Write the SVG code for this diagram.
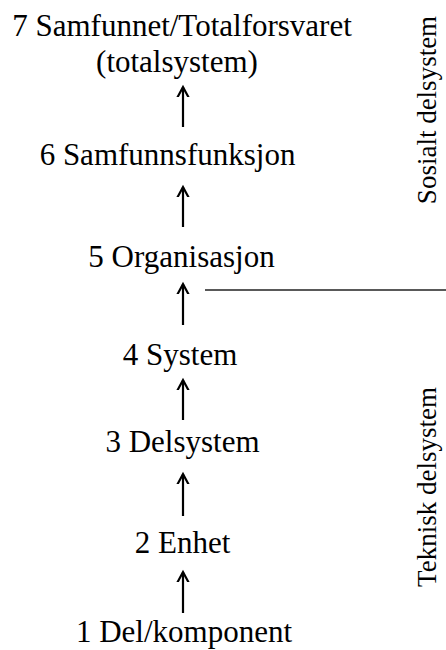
<svg xmlns="http://www.w3.org/2000/svg" width="446" height="650" viewBox="0 0 446 650">
  <style>
    .lbl { font-family: "Liberation Serif", "Times New Roman", serif; font-size: 31px; fill: #000; text-anchor: middle; }
    .side { font-family: "Liberation Serif", "Times New Roman", serif; font-size: 27px; fill: #000; text-anchor: middle; }
    .arrow { stroke: #000; stroke-width: 2.2; fill: none; marker-end: url(#head); }
    .divider { stroke: #222; stroke-width: 1.3; }
  </style>
  <defs>
    <marker id="head" markerUnits="userSpaceOnUse" markerWidth="20" markerHeight="20" viewBox="-10 -10 20 20" refX="0" refY="0" orient="auto">
      <path d="M -14 -7.5 L 0 0 L -14 7.5" fill="none" stroke="#000" stroke-width="2.2" stroke-linejoin="miter"/>
    </marker>
  </defs>

  <!-- levels, top to bottom -->
  <g id="level7">
    <text class="lbl" x="182" y="36">7 Samfunnet/Totalforsvaret</text>
    <text class="lbl" x="177" y="72">(totalsystem)</text>
  </g>
  <g id="level6"><text class="lbl" x="167.5" y="165">6 Samfunnsfunksjon</text></g>
  <g id="level5"><text class="lbl" x="181.5" y="267">5 Organisasjon</text></g>
  <g id="level4"><text class="lbl" x="180" y="365">4 System</text></g>
  <g id="level3"><text class="lbl" x="182.5" y="452">3 Delsystem</text></g>
  <g id="level2"><text class="lbl" x="182.5" y="553">2 Enhet</text></g>
  <g id="level1"><text class="lbl" x="184" y="642">1 Del/komponent</text></g>

  <!-- side labels -->
  <g id="social">
    <text class="side" transform="translate(436,110) rotate(-90)">Sosialt delsystem</text>
  </g>
  <g id="technical">
    <text class="side" transform="translate(436,487) rotate(-90)">Teknisk delsystem</text>
  </g>

  <!-- connectors -->
  <g id="connectors">
    <line class="arrow" x1="183" y1="127" x2="183" y2="87"/>
    <line class="arrow" x1="183" y1="227" x2="183" y2="187"/>
    <line class="arrow" x1="183" y1="325" x2="183" y2="284"/>
    <line class="arrow" x1="183" y1="420" x2="183" y2="380"/>
    <line class="arrow" x1="183" y1="516" x2="183" y2="474"/>
    <line class="arrow" x1="183" y1="613" x2="183" y2="572"/>
    <line class="divider" x1="205" y1="290" x2="446" y2="290"/>
  </g>
</svg>
